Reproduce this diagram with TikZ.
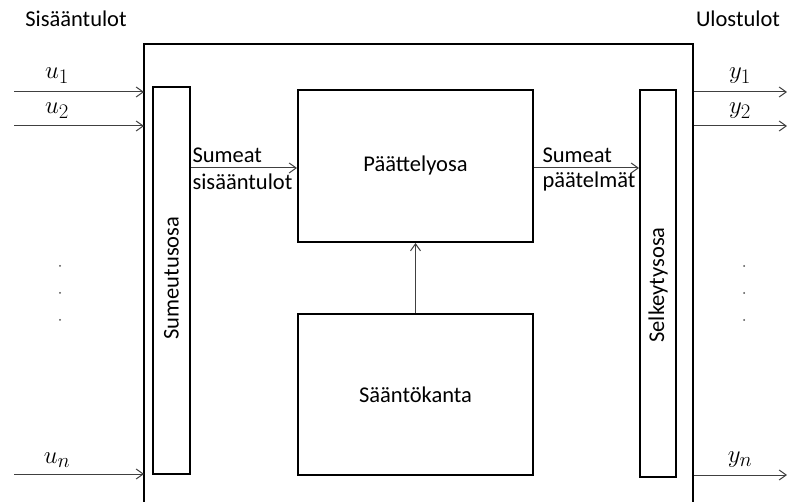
\documentclass[tikz,border=0pt]{standalone}
\usepackage{fontspec}
\setmainfont{Carlito}
\usetikzlibrary{arrows.meta}
% larger subscripts for the signal names
\DeclareMathSizes{26}{26}{20}{15}
\begin{document}
\begin{tikzpicture}[x=1pt,y=-1pt,
  every node/.style={font=\fontsize{22.5}{26}\selectfont},
  blockbox/.style={draw=black,line width=2pt,inner sep=0pt},
  sig/.style={draw=black!75,line width=1pt,-{Straight Barb[length=7pt,width=10pt,line width=1pt]}},
  mlabel/.style={font=\fontsize{26}{29}\selectfont},
  dotmark/.style={circle,fill=black!70,inner sep=0pt,minimum size=2pt}]
\useasboundingbox (0,0) rectangle (787,502);

% outer frame (continues below the page edge)
\coordinate (frTL) at (144,44);
\coordinate (frTR) at (693,44);
\draw[line width=2pt] (144,520) -- (frTL) -- (frTR) -- (693,520);

% section headings
\node (inhead) at (76,19) {Sisääntulot};
\node (outhead) at (738,19) {Ulostulot};

% processing blocks
\node[blockbox,minimum width=37pt,minimum height=387pt] (fuzz) at (171.5,280.5) {};
\node[rotate=90] (fuzzlab) at (171.5,278) {Sumeutusosa};
\node[blockbox,minimum width=36pt,minimum height=387pt] (defuzz) at (658,283.5) {};
\node[rotate=90] (defuzzlab) at (658,285) {Selkeytysosa};
\node[blockbox,minimum width=235pt,minimum height=152pt] (infer) at (415.5,166) {Päättelyosa};
\node[blockbox,minimum width=235pt,minimum height=161pt] (rules) at (415.5,394.5) {Sääntökanta};

% inputs
\coordinate (u1s) at (14,92);   \coordinate (u1e) at (144,92);
\coordinate (u2s) at (14,126);  \coordinate (u2e) at (144,126);
\coordinate (uns) at (14,474);  \coordinate (une) at (144,474);
\draw[sig] (u1s) -- (u1e);
\draw[sig] (u2s) -- (u2e);
\draw[sig] (uns) -- (une);
\node[mlabel] (u1) at (57,76) {$u_1$};
\node[mlabel] (u2) at (57,111) {$u_2$};
\node[mlabel] (un) at (57,460) {$u_n$};
\node[dotmark] (ld1) at (60,266) {};
\node[dotmark] (ld2) at (60,293) {};
\node[dotmark] (ld3) at (60,320) {};

% outputs
\coordinate (y1s) at (694,92);   \coordinate (y1e) at (787,92);
\coordinate (y2s) at (694,126);  \coordinate (y2e) at (787,126);
\coordinate (yns) at (694,475);  \coordinate (yne) at (787,475);
\draw[sig] (y1s) -- (y1e);
\draw[sig] (y2s) -- (y2e);
\draw[sig] (yns) -- (yne);
\node[mlabel] (y1) at (740,76) {$y_1$};
\node[mlabel] (y2) at (740,111) {$y_2$};
\node[mlabel] (yn) at (740,460) {$y_n$};
\node[dotmark] (rd1) at (744,266) {};
\node[dotmark] (rd2) at (744,293) {};
\node[dotmark] (rd3) at (744,320) {};

% internal signals
\draw[sig] (fuzz.east |- 0,168) -- (infer.west |- 0,168);
\node[anchor=west] (fzin1) at (189,155) {Sumeat};
\node[anchor=west] (fzin2) at (189,182) {sisääntulot};
\draw[sig] (infer.east |- 0,168) -- (defuzz.west |- 0,168);
\node[anchor=west] (fzout1) at (539,155) {Sumeat};
\node[anchor=west] (fzout2) at (539,182) {päätelmät};
\draw[sig] (rules.north) -- (infer.south);
\end{tikzpicture}
\end{document}
